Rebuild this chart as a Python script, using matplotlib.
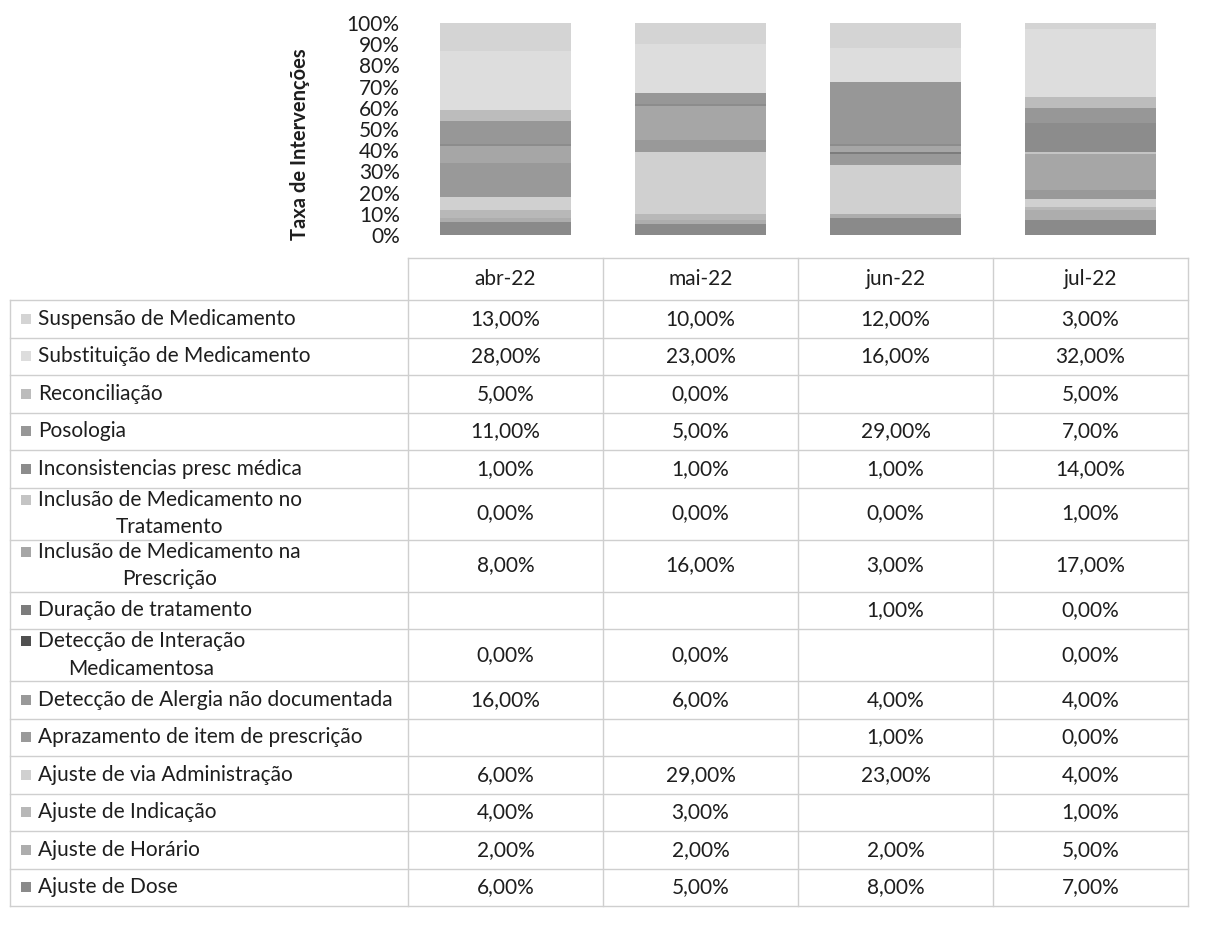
import matplotlib.pyplot as plt
import numpy as np

plt.rcParams["font.family"] = ["Lato", "DejaVu Sans"]

MONTHS = ["abr-22", "mai-22", "jun-22", "jul-22"]

# table order (top to bottom); bars stack in reverse order (last row at bottom)
CATEGORIES = [
    "Suspensão de Medicamento",
    "Substituição de Medicamento",
    "Reconciliação",
    "Posologia",
    "Inconsistencias presc médica",
    "Inclusão de Medicamento no\nTratamento",
    "Inclusão de Medicamento na\nPrescrição",
    "Duração de tratamento",
    "Detecção de Interação\nMedicamentosa",
    "Detecção de Alergia não documentada",
    "Aprazamento de item de prescrição",
    "Ajuste de via Administração",
    "Ajuste de Indicação",
    "Ajuste de Horário",
    "Ajuste de Dose",
]

# None = empty cell in the data table
ABR = [13, 28, 5, 11, 1, 0, 8, None, 0, 16, None, 6, 4, 2, 6]
MAI = [10, 23, 0, 5, 1, 0, 16, None, 0, 6, None, 29, 3, 2, 5]
JUN = [12, 16, None, 29, 1, 0, 3, 1, None, 4, 1, 23, None, 2, 8]
JUL = [3, 32, 5, 7, 14, 1, 17, 0, 0, 4, 0, 4, 1, 5, 7]

COLORS = [
    "#d4d4d4", "#dddddd", "#bcbcbc", "#979797", "#8c8c8c",
    "#c4c4c4", "#a6a6a6", "#7c7c7c", "#505050", "#999999",
    "#9a9a9a", "#d0d0d0", "#b8b8b8", "#adadad", "#8a8a8a",
]
TEXT = "#1e1e1e"

W, H = 1207, 931
fig = plt.figure(figsize=(W / 100, H / 100), dpi=100)

# ---- stacked 100% bars ----
ax = fig.add_axes([408 / W, 1 - 235 / H, 780 / W, 212 / H])
series = [ABR, MAI, JUN, JUL]
data = np.array([[0 if v is None else v for v in s] for s in series], dtype=float).T
x = np.arange(len(MONTHS))
bottom = np.zeros(len(MONTHS))
for i in range(len(CATEGORIES) - 1, -1, -1):
    ax.bar(x, data[i], 0.67, bottom=bottom, color=COLORS[i], linewidth=0)
    bottom += data[i]

ax.set_xlim(-0.5, len(MONTHS) - 0.5)
ax.set_ylim(0, 100)
ax.set_yticks(np.arange(0, 101, 10))
ax.set_yticklabels([f"{t}%" for t in range(0, 101, 10)], fontsize=15, color=TEXT)
ax.tick_params(axis="y", length=0, pad=6)
ax.set_xticks([])
for sp in ax.spines.values():
    sp.set_visible(False)
ax.set_ylabel("Taxa de Intervenções", fontsize=14.5, fontweight="bold", color=TEXT)
ax.yaxis.set_label_coords(-0.125, 0.43)

# ---- data table (pixel coordinates) ----
tab = fig.add_axes([0, 0, 1, 1])
tab.set_xlim(0, W)
tab.set_ylim(H, 0)
tab.axis("off")

col_edges = [408, 603, 798, 993, 1188]
left_edge = 10
line_kw = dict(color="#cfcfcf", linewidth=1)
FS = 15

# header row
head_top, head_bot = 258, 300
tab.plot([col_edges[0], col_edges[-1]], [head_top, head_top], **line_kw)
for j, m in enumerate(MONTHS):
    cx = (col_edges[j] + col_edges[j + 1]) / 2
    tab.text(cx, (head_top + head_bot) / 2, m, ha="center", va="center",
             fontsize=FS, color=TEXT)

# body rows
y = head_bot
tab.plot([left_edge, col_edges[-1]], [y, y], **line_kw)
for i, name in enumerate(CATEGORIES):
    nlines = name.count("\n") + 1
    h = 37.5 if nlines == 1 else 52
    cy = y + h / 2
    first_line_y = cy - (nlines - 1) * 14
    tab.add_patch(plt.Rectangle((21, first_line_y - 5), 10, 10,
                                color=COLORS[i], linewidth=0))
    tab.text(38, cy, name, ha="left", va="center", multialignment="center",
             fontsize=FS, color=TEXT, linespacing=1.45)
    for j, s in enumerate(series):
        v = s[i]
        if v is None:
            continue
        cx = (col_edges[j] + col_edges[j + 1]) / 2
        tab.text(cx, cy, f"{v:.2f}%".replace(".", ","), ha="center", va="center",
                 fontsize=FS, color=TEXT)
    y += h
    tab.plot([left_edge, col_edges[-1]], [y, y], **line_kw)

body_bot = y
tab.plot([left_edge, left_edge], [head_bot, body_bot], **line_kw)
for xe in col_edges:
    tab.plot([xe, xe], [head_top, body_bot], **line_kw)

fig.savefig("out.png", dpi=100)
